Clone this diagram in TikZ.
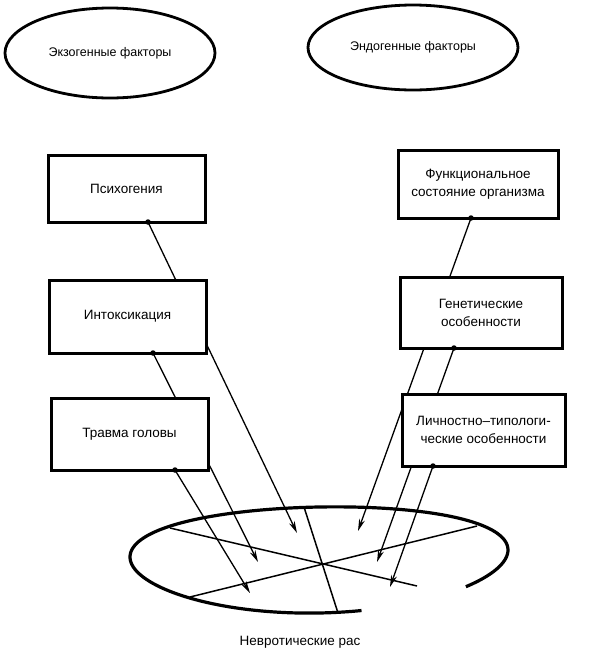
\documentclass[tikz,border=0pt]{standalone}
\usepackage{fontspec}
\setmainfont{Liberation Sans}
\usetikzlibrary{arrows.meta,backgrounds,shapes.geometric}
\begin{document}
\begin{tikzpicture}[x=1pt,y=-1pt,
 txt/.style={font=\fontsize{13.5}{18}\selectfont, align=center},
 ovaltxt/.style={font=\fontsize{12.5}{15}\selectfont, align=center},
 box/.style={txt, draw, line width=3pt, fill=white, rectangle, inner sep=0pt},
 oval/.style={ovaltxt, draw, line width=2.8pt, ellipse, inner sep=0pt},
 arr/.style={line width=1.3pt, -{Stealth[length=12pt,width=6pt]}},
 link/.style={line width=1.5pt},
 dot/.style={circle, fill, inner sep=0pt, minimum size=5.5pt}]
\useasboundingbox (0,0) rectangle (603,654);
% top ovals
\node[oval, minimum width=210pt, minimum height=90pt] (exo) at (110,53) {Экзогенные факторы};
\node[oval, minimum width=210pt, minimum height=85pt] (endo) at (413,47.5) {Эндогенные факторы};
% boxes
\node[box, minimum width=157pt, minimum height=67pt] (psy) at (126.5,188.5) {Психогения};
\node[box, minimum width=157pt, minimum height=73pt] (intox) at (127.5,316.5) {Интоксикация};
\node[box, minimum width=157pt, minimum height=72pt] (trauma) at (129.5,434) {Травма головы};
\node[box, minimum width=160pt, minimum height=68pt] (func) at (478,184) {Функциональное\\состояние организма};
\node[box, minimum width=162pt, minimum height=71pt] (gen) at (481,312.5) {Генетические\\особенности};
\node[box, minimum width=163pt, minimum height=72pt] (lich) at (483.5,430) {Личностно–типологи-\\ческие особенности};
% dots
\node[dot] (psyd) at (148,222) {};
\node[dot] (intoxd) at (153,353) {};
\node[dot] (traumad) at (175,470) {};
\node[dot] (funcd) at (471,218) {};
\node[dot] (gend) at (454,348) {};
\node[dot] (lichd) at (433,466) {};
% arrow tips
\coordinate (tA) at (297,533);
\coordinate (tB) at (258,562);
\coordinate (tC) at (250,593);
\coordinate (tD) at (358,531);
\coordinate (tE) at (377,562);
\coordinate (tF) at (390,587);
% points on the big ellipse
\coordinate (e1) at (170,528);
\coordinate (e2) at (190,597);
\coordinate (e3) at (477,526);
\coordinate (e4) at (304,507);
\coordinate (e5) at (338,613);
\coordinate (fe) at (417,586);
\begin{scope}[on background layer]
\draw[arr] (psyd.center) -- (tA);
\draw[arr] (intoxd.center) -- (tB);
\draw[arr] (traumad.center) -- (tC);
\draw[arr] (funcd.center) -- (tD);
\draw[arr] (gend.center) -- (tE);
\draw[arr] (lichd.center) -- (tF);
\end{scope}
% big open ellipse
\draw[line width=3.2pt] plot[domain=77:399, samples=140, smooth] ({319+189*cos(\x)},{560+53*sin(\x)-6.5*cos(\x)*cos(\x)-3.5*cos(\x)});
\draw[link] (e1) -- (fe);
\draw[link] (e2) -- (e3);
\draw[link] (e4) -- (e5);
\node[txt] (cap) at (300,642) {Невротические рас};
\end{tikzpicture}
\end{document}
